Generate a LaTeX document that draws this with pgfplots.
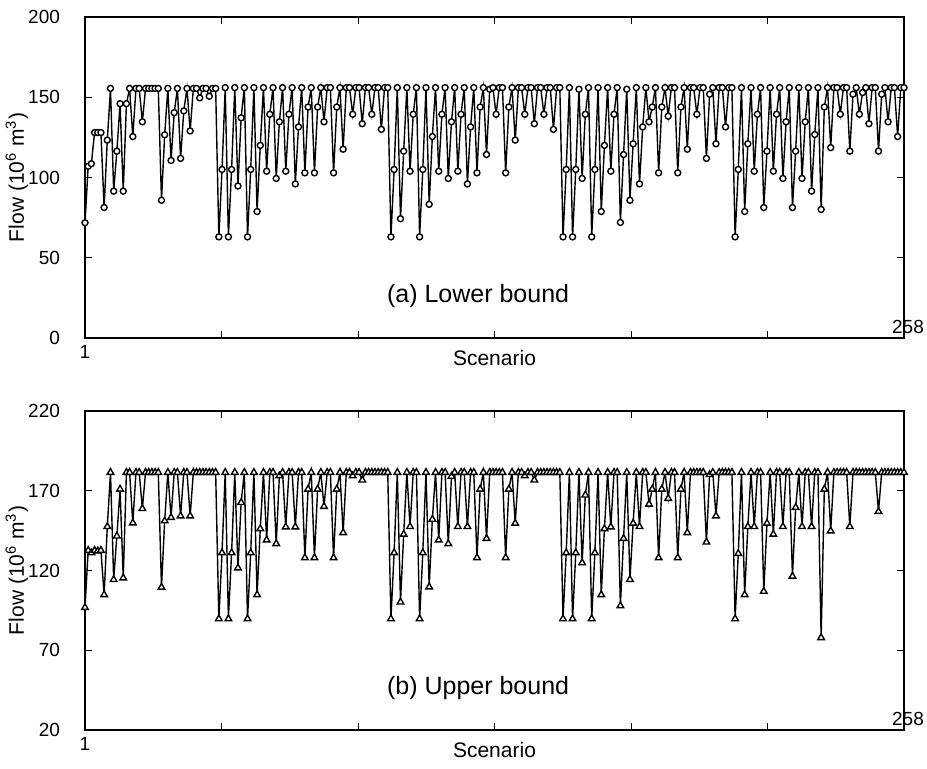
\documentclass[border=0pt]{standalone}
\usepackage{fontspec}
\setmainfont{Liberation Sans}
\usepackage{pgfplots}
\pgfplotsset{compat=1.18}

\pgfplotsset{
  flowaxis/.style={
    scale only axis, width=409.5pt,
    xmin=1, xmax=258,
    xtick={1,43.833,86.667,129.5,172.333,215.167,258},
    xticklabels={1,,,,,,},
    tick align=inside, major tick length=3.5pt,
    every tick/.style={black, line width=0.5pt},
    axis line style={line width=0.6pt},
    tick label style={font=\fontsize{9.5}{11}\selectfont},
    yticklabel style={xshift=-9pt},
    label style={font=\fontsize{10.5}{12}\selectfont},
    xlabel style={yshift=11pt},
    /pgf/number format/assume math mode=true,
    xlabel={Scenario},
    clip=false,
  },
  flowline/.style={black, line width=0.7pt},
}
\newcommand{\flowlabel}{%
  \node[rotate=90, font=\fontsize{10.5}{12}\selectfont]
    at ([xshift=-34pt]rel axis cs:0,0.5) {Flow (10\textsuperscript{6} m\textsuperscript{3})};}

\begin{document}
\begin{tikzpicture}
\useasboundingbox (0,0) rectangle (463.5pt,-384.5pt);

% (a) lower bound
\begin{axis}[flowaxis, at={(42.5pt,-169pt)}, anchor=south west, height=160.5pt,
    ymin=0, ymax=200, ytick={0,50,...,200}]
\addplot[flowline, mark=*, mark size=1.5pt, mark options={fill=white, draw=black}] coordinates {
(1,71.8)(2,107)(3,108.6)(4,128)(5,128)(6,128)(7,81.3)(8,123.3)(9,155.5)
(10,91.5)(11,116.4)(12,146)(13,91.5)(14,146)(15,155.5)(16,125.5)(17,155.5)(18,155.5)
(19,134.7)(20,155.5)(21,155.5)(22,155.5)(23,155.5)(24,155.5)(25,85.8)(26,126.6)(27,155.5)
(28,110.6)(29,140.4)(30,155.5)(31,111.9)(32,141.5)(33,155.5)(34,129)(35,155.5)(36,155.5)
(37,149.6)(38,155.5)(39,155.5)(40,150.6)(41,155.5)(42,155.5)
(43,63)(44,105)(45,156)(46,63)(47,105)(48,156)(49,94.7)(50,137.2)(51,156)
(52,63)(53,105)(54,156)(55,78.8)(56,120)(57,156)(58,103.9)(59,139.4)(60,156)
(61,99.4)(62,134.7)(63,156)(64,103.9)(65,139.4)(66,156)(67,96)(68,131.5)(69,156)
(70,102.9)(71,143.9)(72,156)(73,102.9)(74,143.9)(75,156)(76,134.7)(77,156)(78,156)
(79,102.9)(80,143.9)(81,156)(82,117.6)(83,156)(84,156)(85,139.4)(86,156)(87,156)
(88,133.5)(89,156)(90,156)(91,139.4)(92,156)(93,156)(94,130)(95,156)(96,156)
(97,63)(98,105)(99,156)(100,74.3)(101,116.4)(102,156)(103,103.9)(104,139.4)(105,156)
(106,63)(107,105)(108,156)(109,83.3)(110,125.5)(111,156)(112,103.9)(113,139.4)(114,156)
(115,99.4)(116,134.7)(117,156)(118,103.9)(119,139.4)(120,156)(121,96)(122,131.5)(123,156)
(124,102.9)(125,143.9)(126,156)(127,114.3)(128,155)(129,156)(130,139.4)(131,156)(132,156)
(133,102.9)(134,143.9)(135,156)(136,123.3)(137,156)(138,156)(139,139.4)(140,156)(141,156)
(142,133.5)(143,156)(144,156)(145,139.4)(146,156)(147,156)(148,130)(149,156)(150,156)
(151,63)(152,105)(153,156)(154,63)(155,105)(156,155)(157,99.4)(158,139.4)(159,156)
(160,63)(161,105)(162,156)(163,78.8)(164,120)(165,156)(166,103.9)(167,139.4)(168,156)
(169,72)(170,114.3)(171,155)(172,85.8)(173,121)(174,156)(175,96)(176,131.5)(177,156)
(178,134.7)(179,143.9)(180,156)(181,102.9)(182,143.9)(183,156)(184,138.2)(185,156)(186,156)
(187,102.9)(188,143.9)(189,156)(190,117.6)(191,156)(192,156)(193,139.4)(194,156)(195,156)
(196,111.9)(197,151.9)(198,156)(199,121)(200,156)(201,156)(202,131.5)(203,156)(204,156)
(205,63)(206,105)(207,156)(208,78.8)(209,121)(210,156)(211,103.9)(212,139.4)(213,156)
(214,81.3)(215,116.4)(216,156)(217,103.9)(218,139.4)(219,156)(220,99.4)(221,134.7)(222,156)
(223,81.3)(224,116.4)(225,156)(226,99.4)(227,134.7)(228,156)(229,91.5)(230,126.8)(231,156)
(232,80.1)(233,143.9)(234,156)(235,118.6)(236,156)(237,156)(238,139.4)(239,156)(240,156)
(241,116.4)(242,151.9)(243,156)(244,139.4)(245,152.9)(246,156)(247,133.5)(248,156)(249,156)
(250,116.4)(251,151.9)(252,156)(253,134.7)(254,156)(255,156)(256,125.5)(257,156)(258,156)
};
\flowlabel
\node[font=\fontsize{12.5}{14}\selectfont] at (rel axis cs:0.48,0.131) {(a) Lower bound};
\node[font=\fontsize{9.5}{11}\selectfont, xshift=2pt, yshift=5.5pt] at (rel axis cs:1,0) {258};
\end{axis}

% (b) upper bound
\begin{axis}[flowaxis, at={(42.5pt,-365pt)}, anchor=south west, height=159.5pt,
    ymin=20, ymax=220, ytick={20,70,...,220}]
\addplot[flowline, mark=triangle*, mark size=1.9pt, mark options={fill=white, draw=black}] coordinates {
(1,96.8)(2,132.6)(3,131.1)(4,132.6)(5,132.2)(6,132.6)(7,104.8)(8,147.5)(9,181.5)
(10,114.3)(11,141.6)(12,171)(13,115.3)(14,181.5)(15,181.5)(16,149.8)(17,181.5)(18,181.5)
(19,158.8)(20,181.5)(21,181.5)(22,181.5)(23,181.5)(24,181.5)(25,109.5)(26,151.1)(27,181.5)
(28,153.2)(29,181.5)(30,181.5)(31,154.2)(32,181.5)(33,181.5)(34,154.2)(35,181.5)(36,181.5)
(37,181.5)(38,181.5)(39,181.5)(40,181.5)(41,181.5)(42,181.5)
(43,89.7)(44,131.1)(45,181.5)(46,89.7)(47,131.1)(48,181.5)(49,121.6)(50,162.6)(51,181.5)
(52,89.7)(53,131.1)(54,181.5)(55,104.8)(56,146.2)(57,181.5)(58,139.1)(59,181.5)(60,181.5)
(61,136.8)(62,179.4)(63,181.5)(64,147.3)(65,181.5)(66,181.5)(67,147.3)(68,181.5)(69,181.5)
(70,128)(71,171)(72,181.5)(73,128)(74,171)(75,181.5)(76,160.1)(77,181.5)(78,181.5)
(79,128)(80,171)(81,181.5)(82,143.7)(83,181.5)(84,181.5)(85,179.4)(86,181.5)(87,181.5)
(88,176.7)(89,181.5)(90,181.5)(91,181.5)(92,181.5)(93,181.5)(94,181.5)(95,181.5)(96,181.5)
(97,89.7)(98,131.1)(99,181.5)(100,100.2)(101,142.7)(102,181.5)(103,147.5)(104,181.5)(105,181.5)
(106,89.7)(107,131.1)(108,181.5)(109,109.7)(110,152.1)(111,181.5)(112,139.1)(113,181.5)(114,181.5)
(115,136.8)(116,179)(117,181.5)(118,147.5)(119,181.5)(120,181.5)(121,147.5)(122,181.5)(123,181.5)
(124,128)(125,171)(126,181.5)(127,140.1)(128,181.5)(129,181.5)(130,181.5)(131,181.5)(132,181.5)
(133,128)(134,171)(135,181.5)(136,149.6)(137,181.5)(138,181.5)(139,179.4)(140,181.5)(141,181.5)
(142,176.7)(143,181.5)(144,181.5)(145,181.5)(146,181.5)(147,181.5)(148,181.5)(149,181.5)(150,181.5)
(151,89.7)(152,131.1)(153,181.5)(154,89.7)(155,131.1)(156,181.5)(157,124.8)(158,167.3)(159,181.5)
(160,89.7)(161,131.1)(162,181.5)(163,104.8)(164,146.2)(165,181.5)(166,147.3)(167,181.5)(168,181.5)
(169,97.9)(170,140.1)(171,181.5)(172,114.3)(173,149.6)(174,181.5)(175,147.5)(176,181.5)(177,181.5)
(178,161.6)(179,171)(180,181.5)(181,128)(182,171)(183,181.5)(184,165.2)(185,181.5)(186,181.5)
(187,128)(188,171)(189,181.5)(190,143.7)(191,181.5)(192,181.5)(193,181.5)(194,181.5)(195,181.5)
(196,137.8)(197,180.1)(198,181.5)(199,154.2)(200,181.5)(201,181.5)(202,181.5)(203,181.5)(204,181.5)
(205,89.7)(206,130.7)(207,181.5)(208,104.8)(209,147.5)(210,181.5)(211,147.5)(212,181.5)(213,181.5)
(214,106.9)(215,149.6)(216,181.5)(217,142.7)(218,181.5)(219,181.5)(220,147.5)(221,181.5)(222,181.5)
(223,116.4)(224,159.5)(225,181.5)(226,147.5)(227,181.5)(228,181.5)(229,147.5)(230,181.5)(231,181.5)
(232,77.9)(233,171)(234,181.5)(235,144.8)(236,181.5)(237,181.5)(238,181.5)(239,181.5)(240,181.5)
(241,147.5)(242,181.5)(243,181.5)(244,181.5)(245,181.5)(246,181.5)(247,181.5)(248,181.5)(249,181.5)
(250,157)(251,181.5)(252,181.5)(253,181.5)(254,181.5)(255,181.5)(256,181.5)(257,181.5)(258,181.5)
};
\flowlabel
\node[font=\fontsize{12.5}{14}\selectfont] at (rel axis cs:0.48,0.132) {(b) Upper bound};
\node[font=\fontsize{9.5}{11}\selectfont, xshift=2pt, yshift=5.5pt] at (rel axis cs:1,0) {258};
\end{axis}
\end{tikzpicture}
\end{document}
